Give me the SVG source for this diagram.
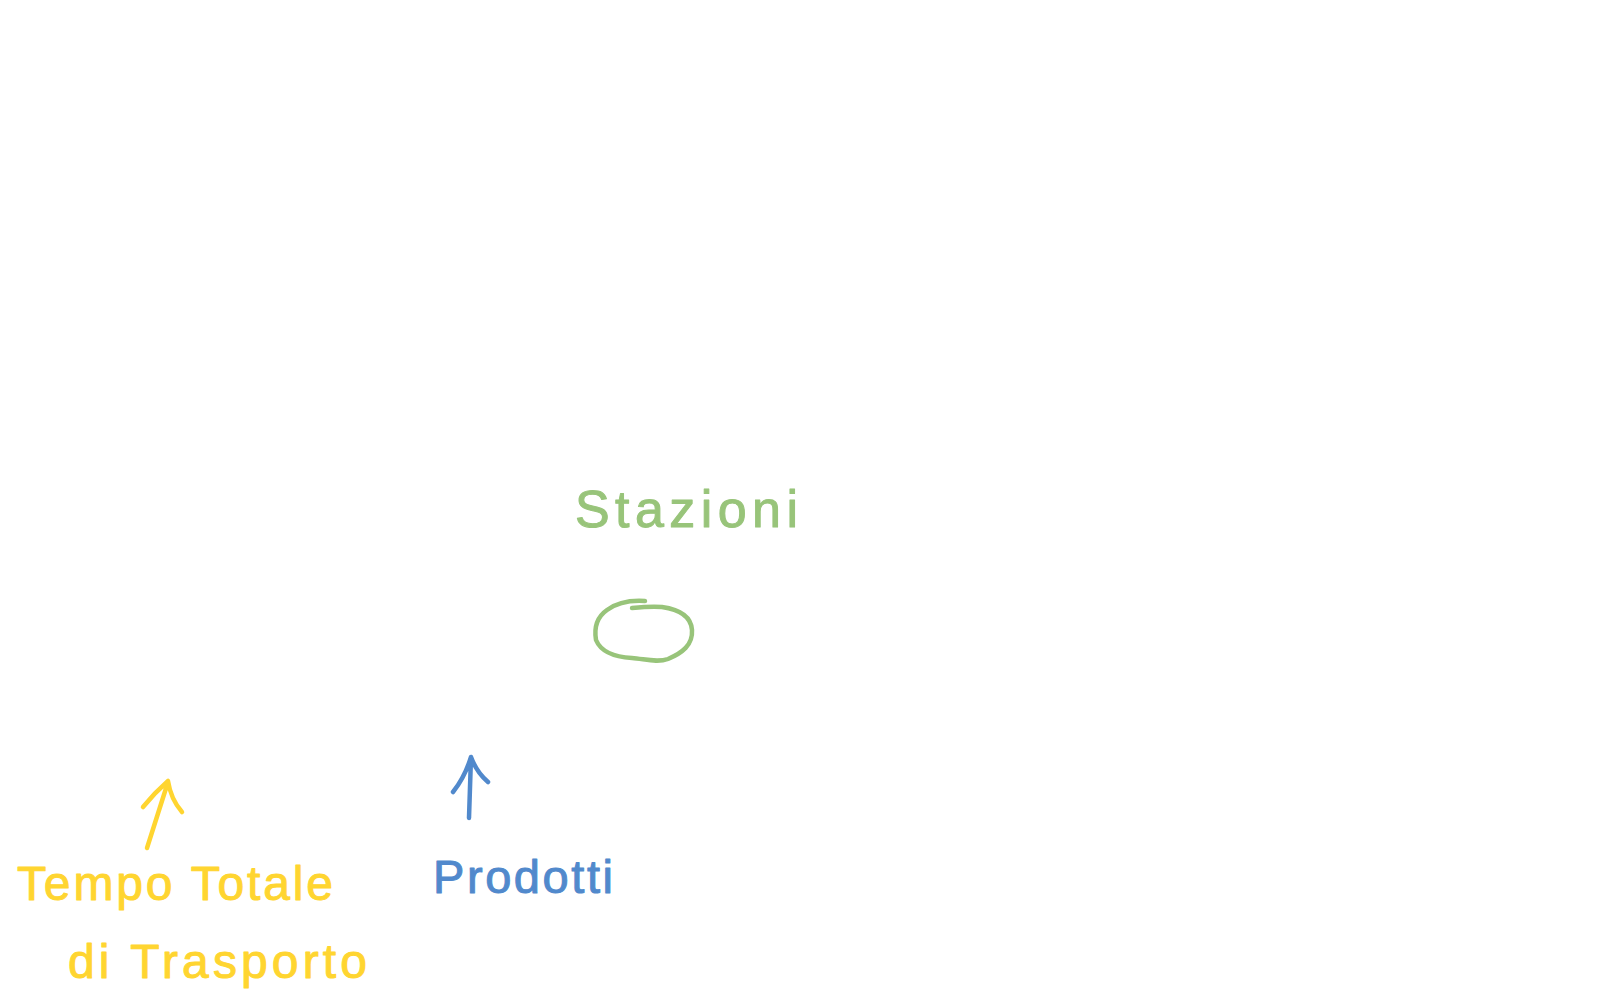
<svg xmlns="http://www.w3.org/2000/svg" width="1597" height="999" viewBox="0 0 1597 999">
<style>
  .ink { fill: none; stroke-width: 4.5; stroke-linecap: round; stroke-linejoin: round; }
  .green { stroke: #98C47A; }
  .yellow { stroke: #FFD530; }
  .blue { stroke: #5189CC; }
  .txt { font-family: "Liberation Sans", "DejaVu Sans", sans-serif; stroke-width: 1; stroke-linejoin: round; }
</style>
<rect width="1597" height="999" fill="#ffffff"/>
<g id="stazioni">
  <text class="txt" x="575" y="527" font-size="52" fill="#98C47A" stroke="#98C47A" textLength="223" lengthAdjust="spacing">Stazioni</text>
</g>
<g id="station">
  <path class="ink green" d="M645 601 C630 600 618 602 607 610 C597 617 594 628 596 640 C601 652 614 657 632 658 C645 659 657 663 668 659 C682 653 693 645 692 630 C691 615 676 609 662 607 C652 606 642 607 632 608"/>
</g>
<g id="tempo">
  <text class="txt" x="17" y="900" font-size="48" fill="#FFD530" stroke="#FFD530" textLength="316" lengthAdjust="spacing">Tempo Totale</text>
  <text class="txt" x="68" y="978" font-size="48" fill="#FFD530" stroke="#FFD530" textLength="299" lengthAdjust="spacing">di Trasporto</text>
</g>
<g id="prodotti">
  <text class="txt" x="433" y="893" font-size="47" fill="#5189CC" stroke="#5189CC" textLength="180" lengthAdjust="spacing">Prodotti</text>
</g>
<g id="connectors">
  <path class="ink yellow" d="M147 848 L168 782 M143 807 C152 796 160 788 168 781 C170 794 175 804 182 812"/>
  <path class="ink blue" d="M469 818 L471 757 M453 792 C461 782 467 770 471 757 C475 768 481 776 488 782"/>
</g>
</svg>
